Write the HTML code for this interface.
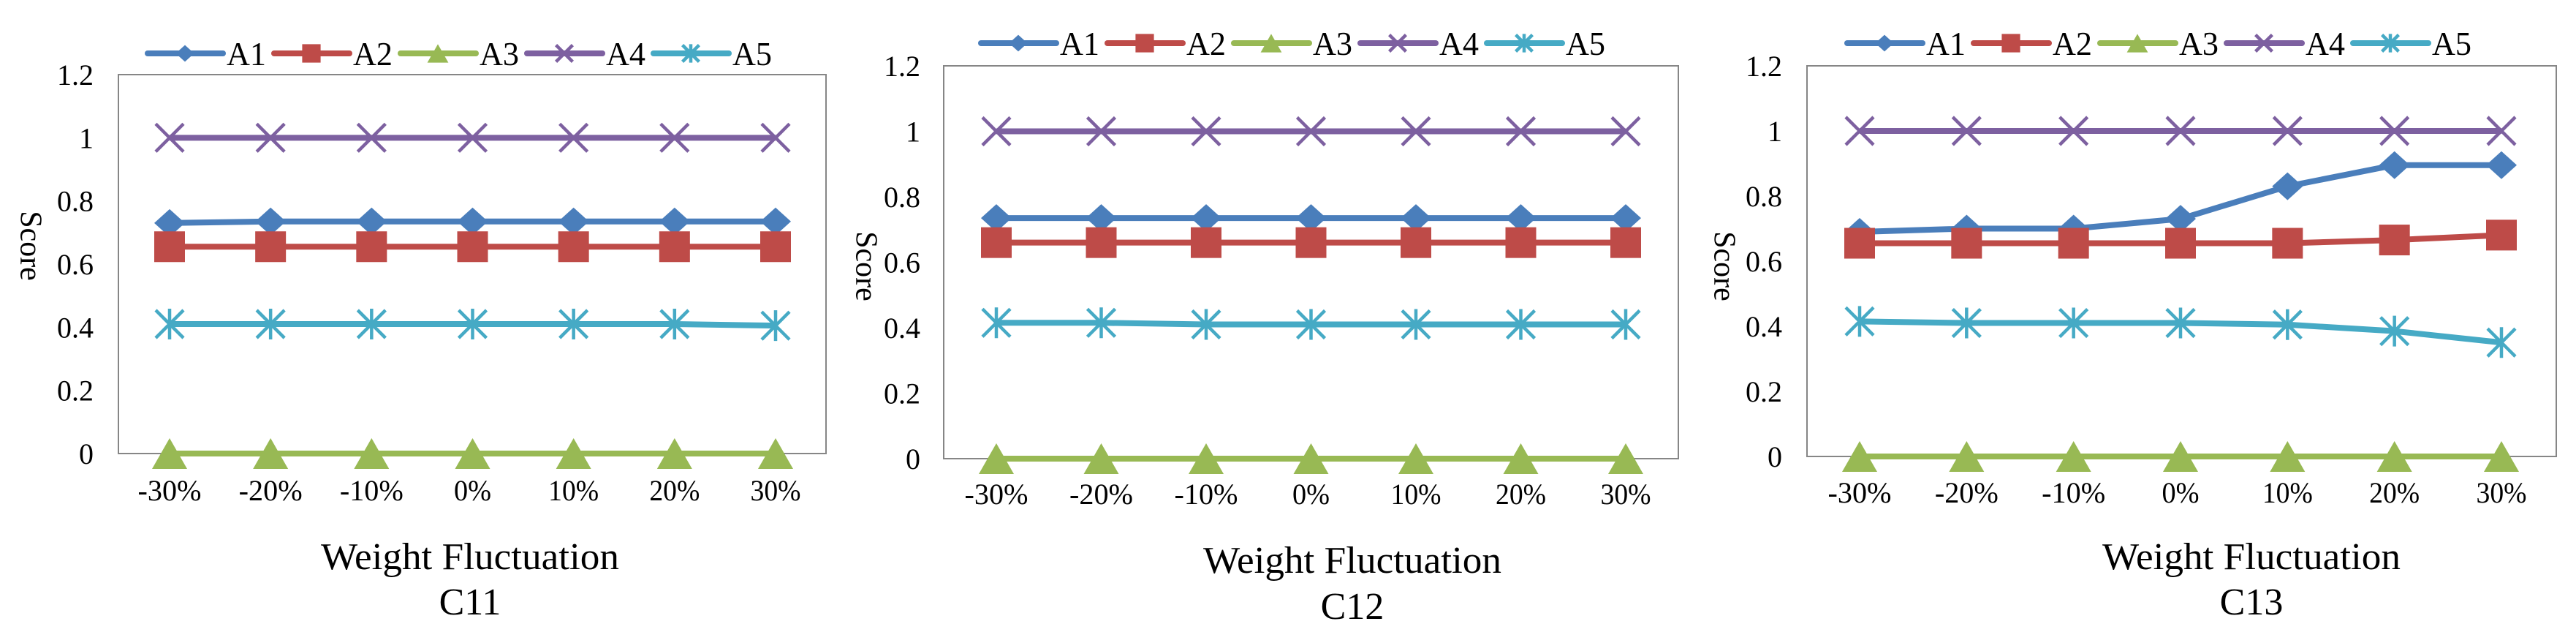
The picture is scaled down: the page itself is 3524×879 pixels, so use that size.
<!DOCTYPE html>
<html><head><meta charset="utf-8">
<style>
html,body{margin:0;padding:0;background:#fff;}
svg{display:block;font-family:"Liberation Serif",serif;}
svg text{font-family:"Liberation Serif",serif;}
</style></head>
<body>
<svg id="root" width="3524" height="879" viewBox="0 0 3524 879"></svg>
<script>
const categories = ["-30%","-20%","-10%","0%","10%","20%","30%"];
const yTicks = [0,0.2,0.4,0.6,0.8,1,1.2];
const yTickLabels = ["0","0.2","0.4","0.6","0.8","1","1.2"];
const seriesNames = ["A1","A2","A3","A4","A5"];
const chartTitles = ["C11","C12","C13"];
const c11A1 = [0.73,0.735,0.735,0.735,0.735,0.735,0.735];
const c11A2 = [0.655,0.655,0.655,0.655,0.655,0.655,0.655];
const c11A3 = [0,0,0,0,0,0,0];
const c11A4 = [1,1,1,1,1,1,1];
const c11A5 = [0.41,0.41,0.41,0.41,0.41,0.41,0.405];
const c12A1 = [0.735,0.735,0.735,0.735,0.735,0.735,0.735];
const c12A2 = [0.66,0.66,0.66,0.66,0.66,0.66,0.66];
const c12A3 = [0,0,0,0,0,0,0];
const c12A4 = [1,1,1,1,1,1,1];
const c12A5 = [0.415,0.415,0.41,0.41,0.41,0.41,0.41];
const c13A1 = [0.69,0.70,0.70,0.73,0.83,0.895,0.895];
const c13A2 = [0.655,0.655,0.655,0.655,0.655,0.665,0.68];
const c13A3 = [0,0,0,0,0,0,0];
const c13A4 = [1,1,1,1,1,1,1];
const c13A5 = [0.415,0.41,0.41,0.41,0.405,0.385,0.35];

const colors = ["#4a7ebb","#be4b48","#98b954","#7d60a0","#46aac5"];
const shapes = ["diamond","square","triangle","x","star"];
const NS = "http://www.w3.org/2000/svg";
const root = document.getElementById('root');
function mk(tag, attrs, parent){const e=document.createElementNS(NS,tag);for(const k in attrs)e.setAttribute(k,attrs[k]);(parent||root).appendChild(e);return e;}
const FF='"Liberation Serif", serif';

const layouts = [
 {L:162,R:1130,T:102,B:620,x0:232,x1:1061,legY:73,legX:202,tickR:128,scoreX:38,scoreY:336,xlabY:684,titleX:643,titleY:778,subY:840,data:[c11A1,c11A2,c11A3,c11A4,c11A5]},
 {L:1291,R:2296,T:90,B:627,x0:1363,x1:2224,legY:59,legX:1342,tickR:1259,scoreX:1181,scoreY:364,xlabY:689,titleX:1850,titleY:783,subY:846,data:[c12A1,c12A2,c12A3,c12A4,c12A5]},
 {L:2472,R:3497,T:90,B:624,x0:2544,x1:3422,legY:59,legX:2527,tickR:2438,scoreX:2355,scoreY:364,xlabY:687,titleX:3080,titleY:778,subY:840,data:[c13A1,c13A2,c13A3,c13A4,c13A5]}
];

function marker(g, shape, cx, cy, color, s){
  let e;
  if(shape==="diamond") e=mk('polygon',{points:`${cx},${cy-19*s} ${cx+21*s},${cy} ${cx},${cy+19*s} ${cx-21*s},${cy}`,fill:color},g);
  else if(shape==="square") e=mk('rect',{x:cx-21*s,y:cy-21*s,width:42*s,height:42*s,fill:color},g);
  else if(shape==="triangle") e=mk('polygon',{points:`${cx},${cy-21*s} ${cx+24*s},${cy+21*s} ${cx-24*s},${cy+21*s}`,fill:color},g);
  else if(shape==="x") e=mk('path',{d:`M${cx-19*s},${cy-19*s}L${cx+19*s},${cy+19*s}M${cx-19*s},${cy+19*s}L${cx+19*s},${cy-19*s}`,stroke:color,'stroke-width':4.5,fill:'none'},g);
  else e=mk('path',{d:`M${cx-19*s},${cy-19*s}L${cx+19*s},${cy+19*s}M${cx-19*s},${cy+19*s}L${cx+19*s},${cy-19*s}M${cx},${cy-21*s}L${cx},${cy+21*s}`,stroke:color,'stroke-width':4.5,fill:'none'},g);
  return e;
}

layouts.forEach((c,ci)=>{
  const g = mk('g',{});
  
  
  const yS = v => c.B - (v/1.2)*(c.B-c.T);
  const xS = i => c.x0 + i*(c.x1-c.x0)/(categories.length-1);
  const box = mk('rect',{x:c.L,y:c.T,width:c.R-c.L,height:c.B-c.T,fill:'none',stroke:'#868686','stroke-width':2},g);
  
  
  yTicks.forEach((v,i)=>{
    const t=mk('text',{x:c.tickR,y:yS(v)+14,'text-anchor':'end','font-size':40,'font-family':FF},g);
    t.textContent=yTickLabels[i];
    
    
  });
  categories.forEach((cat,i)=>{
    const t=mk('text',{x:xS(i),y:c.xlabY,'text-anchor':'middle','font-size':40,'font-family':FF,textLength:18*cat.length+15,lengthAdjust:'spacingAndGlyphs'},g);
    t.textContent=cat;
    
    
  });
  const sc=mk('text',{x:c.scoreX,y:c.scoreY,'text-anchor':'middle','font-size':42,'font-family':FF,transform:`rotate(90 ${c.scoreX} ${c.scoreY})`,'dominant-baseline':'middle'},g);
  sc.textContent='Score';
  
  
  const xt=mk('text',{x:c.titleX,y:c.titleY,'text-anchor':'middle','font-size':52,'font-family':FF,textLength:408,lengthAdjust:'spacingAndGlyphs'},g);
  xt.textContent='Weight Fluctuation';
  
  
  const st=mk('text',{x:c.titleX,y:c.subY,'text-anchor':'middle','font-size':52,'font-family':FF},g);
  st.textContent=chartTitles[ci];
  
  
  c.data.forEach((vals,si)=>{
    const sg=mk('g',{},g);
    
    
    const pts=vals.map((v,i)=>`${xS(i)},${yS(v)}`).join(' ');
    mk('polyline',{points:pts,fill:'none',stroke:colors[si],'stroke-width':8,'stroke-linejoin':'round'},sg);
    vals.forEach((v,i)=>{
      const m=marker(sg,shapes[si],xS(i),yS(v),colors[si],1);
      
      
    });
  });
  seriesNames.forEach((n,si)=>{
    const lx=c.legX+si*173;
    const lg=mk('g',{},g);
    
    
    mk('line',{x1:lx,y1:c.legY,x2:lx+103,y2:c.legY,stroke:colors[si],'stroke-width':8,'stroke-linecap':'round'},lg);
    marker(lg,shapes[si],lx+51,c.legY,colors[si],0.6);
    const t=mk('text',{x:lx+108,y:c.legY+16,'font-size':46,'font-family':FF,textLength:54,lengthAdjust:'spacingAndGlyphs'},lg);
    t.textContent=n;
  });
});
</script>
</body></html>
